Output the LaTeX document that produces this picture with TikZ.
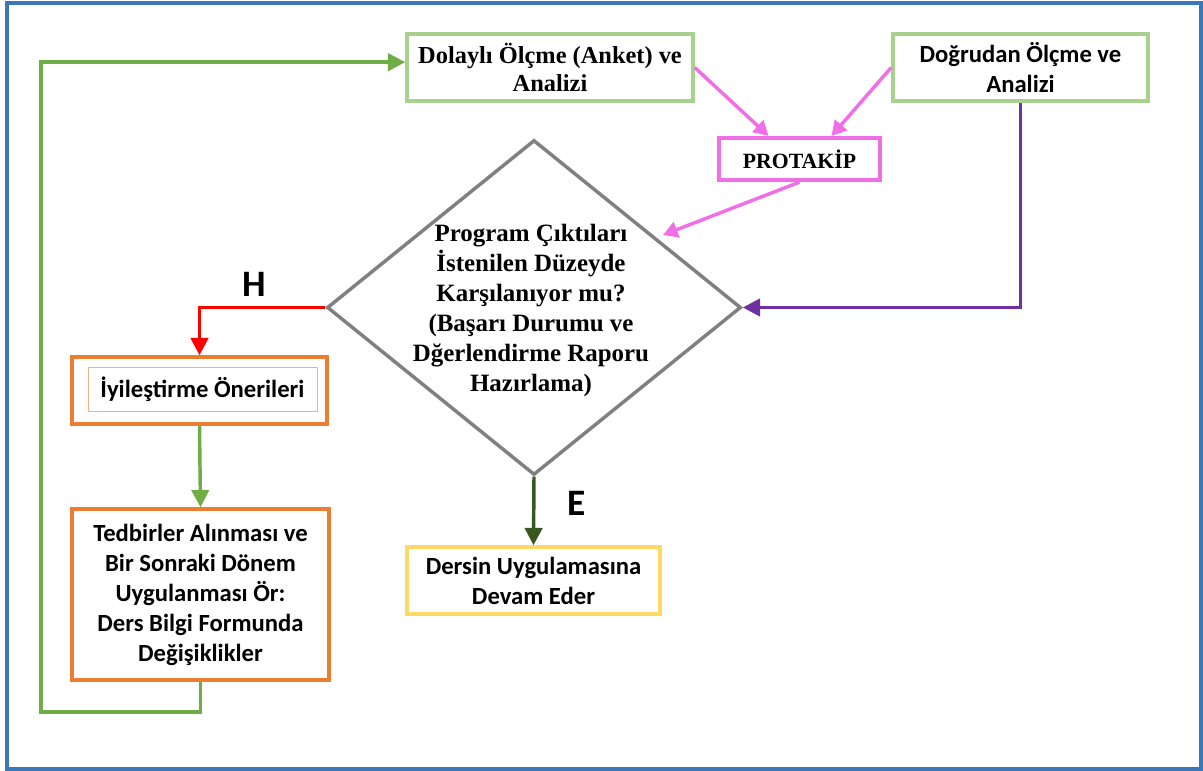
\documentclass[tikz,border=0pt]{standalone}
\usepackage{fontspec}
\setmainfont{Liberation Serif}
\newfontfamily\carlito{Carlito}
\usetikzlibrary{arrows.meta,shapes.geometric}

\definecolor{frameblue}{RGB}{58,120,185}
\definecolor{boxgreen}{RGB}{169,209,142}
\definecolor{loopgreen}{RGB}{112,173,71}
\definecolor{boxorange}{RGB}{237,125,49}
\definecolor{boxyellow}{RGB}{255,217,102}
\definecolor{protapink}{RGB}{240,110,230}
\definecolor{flowpurple}{RGB}{112,48,160}
\definecolor{yesgreen}{RGB}{56,87,35}
\definecolor{decgray}{RGB}{128,128,128}

\begin{document}
\begin{tikzpicture}[x=0.75pt,y=-0.75pt,
    box/.style={draw,line width=2.6pt,fill=white,align=center,inner sep=0pt},
    serifbold/.style={font=\bfseries\fontsize{18.3}{21}\selectfont},
    sansbold/.style={font=\carlito\bfseries\fontsize{18.5}{22.5}\selectfont},
    decision/.style={diamond,draw=decgray,line width=2.6pt,inner sep=0pt,
        minimum width=310.5pt,minimum height=251.25pt},
    flow/.style={line width=2.6pt,-{Triangle[length=13pt,width=13pt]}},
    pinkflow/.style={protapink,line width=2.6pt,-{Triangle[length=11pt,width=12pt]}},
    answer/.style={font=\carlito\bfseries\fontsize{28}{30}\selectfont}]

    \useasboundingbox (0,0) rectangle (1203,771);
    \draw[frameblue,line width=2.4pt] (7,3) rectangle (1201,769);

    % boxes
    \node[box,serifbold,draw=boxgreen,minimum width=214.5pt,minimum height=50.25pt]
        (dol) at (550,67.5) {Dolaylı Ölçme (Anket) ve\\Analizi};
    \node[box,sansbold,draw=boxgreen,minimum width=191.25pt,minimum height=50.25pt]
        (dog) at (1020.5,67.5) {Doğrudan Ölçme ve\\Analizi};
    \node[box,draw=protapink,line width=3.2pt,minimum width=120.75pt,minimum height=31.5pt,
        font=\bfseries\fontsize{16.3}{19}\selectfont]
        (prot) at (799.5,159) {PROTAKİP};

    \node[decision] (dec) at (534,307.5) {};
    \node[align=center,font=\bfseries\fontsize{18.7}{22.5}\selectfont]
        (dectxt) at (531,310) {Program Çıktıları\\İstenilen Düzeyde\\Karşılanıyor mu?\\(Başarı Durumu ve\\Dğerlendirme Raporu\\Hazırlama)};

    \node[box,draw=boxorange,minimum width=191.25pt,minimum height=50.25pt]
        (iyi) at (199.5,390.5) {};
    \node[box,sansbold,draw=boxorange!60,line width=0.6pt,minimum width=171.75pt,minimum height=33pt]
        (iyitxt) at (202.5,389) {İyileştirme Önerileri};
    \node[box,sansbold,draw=boxorange,minimum width=192.75pt,minimum height=128.25pt]
        (ted) at (200.5,594.5) {Tedbirler Alınması ve\\Bir Sonraki Dönem\\Uygulanması Ör:\\Ders Bilgi Formunda\\Değişiklikler};
    \node[box,sansbold,draw=boxyellow,minimum width=189.75pt,minimum height=50.25pt]
        (der) at (533.5,580.5) {Dersin Uygulamasına\\Devam Eder};

    \node[answer] (hlab) at (254,284) {H};
    \node[answer] (elab) at (577,503) {E};

    % connectors
    \coordinate (pin) at (663,235);
    \coordinate (loopcorner) at (41,712);

    \draw[pinkflow] (dol.east) -- ([xshift=-23.25pt]prot.north);
    \draw[pinkflow] (dog.west) -- ([xshift=24pt]prot.north);
    \draw[pinkflow] (prot.south) -- (pin);

    \draw[flow,flowpurple] (dog.south) |- (dec.east);
    \draw[flow,red] (dec.west) -| (iyi.north);
    \draw[flow,yesgreen] (dec.south) -- (der.north);
    \draw[flow,loopgreen] (iyi.south) -- (ted.north);
    \draw[flow,loopgreen] (ted.south) |- (loopcorner) |- ([yshift=4pt]dol.west);
\end{tikzpicture}
\end{document}
